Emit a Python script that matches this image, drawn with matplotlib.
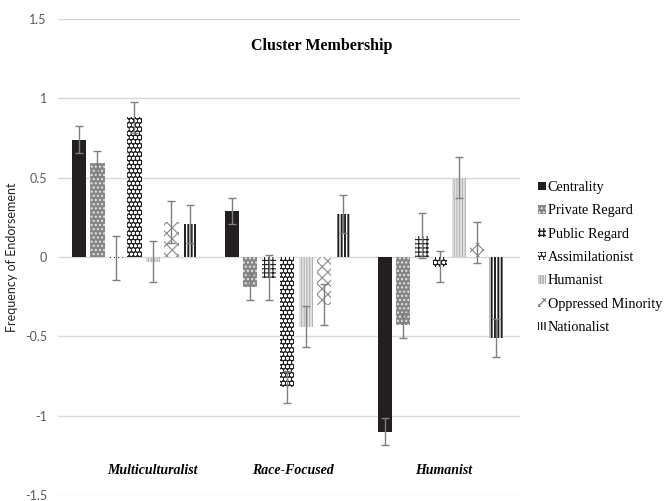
import matplotlib
matplotlib.use('Agg')
import matplotlib.pyplot as plt
import numpy as np

clusters = ['Multiculturalist', 'Race-Focused', 'Humanist']
series = ['Centrality', 'Private Regard', 'Public Regard', 'Assimilationist',
          'Humanist', 'Oppressed Minority', 'Nationalist']

# values per series, one per cluster
values = {
    'Centrality':         [0.74, 0.29, -1.10],
    'Private Regard':     [0.59, -0.19, -0.43],
    'Public Regard':      [-0.005, -0.13, 0.135],
    'Assimilationist':    [0.88, -0.82, -0.06],
    'Humanist':           [-0.03, -0.44, 0.50],
    'Oppressed Minority': [0.22, -0.30, 0.09],
    'Nationalist':        [0.21, 0.27, -0.51],
}
errors = {
    'Centrality':         [0.085, 0.085, 0.085],
    'Private Regard':     [0.08, 0.08, 0.08],
    'Public Regard':      [0.14, 0.14, 0.14],
    'Assimilationist':    [0.10, 0.10, 0.10],
    'Humanist':           [0.13, 0.13, 0.13],
    'Oppressed Minority': [0.13, 0.13, 0.13],
    'Nationalist':        [0.12, 0.12, 0.12],
}

# (face, hatch, hatch colour, hatch width)
styles = {
    'Centrality':         ('#231f20', '', '#231f20', 1.0),
    'Private Regard':     ('#858585', '....', '#e6e6e6', 1.0),
    'Public Regard':      ('white', '++++', '#231f20', 0.8),
    'Assimilationist':    ('#231f20', 'oooo', 'white', 0.9),
    'Humanist':           ('#e2e2e2', '||||||', '#a8a8a8', 0.6),
    'Oppressed Minority': ('white', 'xxx', '#8a8a8a', 0.8),
    'Nationalist':        ('white', '|||||', '#231f20', 1.4),
}

fig = plt.figure(figsize=(6.69, 5.01), dpi=100)
ax = fig.add_axes([0.0867, 0.012, 0.69, 0.95])

x = np.arange(len(clusters))
step = 0.121
width = 0.093
for i, s in enumerate(series):
    face, hatch, hcol, hlw = styles[s]
    pos = x + (i - 3) * step
    bars = ax.bar(pos, values[s], width, color=face, edgecolor=hcol, hatch=hatch,
                  linewidth=0, label=s, zorder=2)
    for b in bars:
        try:
            b.set_hatch_linewidth(hlw)
        except AttributeError:
            pass
    ax.errorbar(pos, values[s], yerr=errors[s], fmt='none', ecolor='#7f7f7f',
                elinewidth=1, capsize=3, capthick=1, zorder=3)

ax.set_xlim(-0.5, 2.52)
ax.set_ylim(-1.5, 1.5)
ax.set_yticks([-1.5, -1, -0.5, 0, 0.5, 1, 1.5])
ax.set_yticklabels(['-1.5', '-1', '-0.5', '0', '0.5', '1', '1.5'])
ax.set_xticks([])
ax.grid(axis='y', color='#d9d9d9', linewidth=1, zorder=0)
ax.set_axisbelow(True)
for sp in ax.spines.values():
    sp.set_visible(False)
ax.tick_params(axis='y', length=0, pad=8, labelcolor='#595959', labelsize=9)
for lbl in ax.get_yticklabels():
    lbl.set_family('Lato')
ax.set_ylabel('Frequency of Endorsement', fontsize=9, family='Lato',
              color='#222222', labelpad=5)

# category labels sit a bit right of the bar groups
label_shift = [0.115, 0.035, 0.02]
for xi, name, dx in zip(x, clusters, label_shift):
    ax.text(xi + dx, -1.345, name, ha='center', va='center', fontsize=10,
            family='Liberation Serif', fontweight='bold', style='italic')

ax.text(0.571, 1.33, 'Cluster Membership', transform=ax.get_yaxis_transform(),
        ha='center', va='center', fontsize=11.5, family='Liberation Serif',
        fontweight='bold')

leg = fig.legend(loc='center left', bbox_to_anchor=(0.796, 0.486),
                 frameon=False, prop={'family': 'Liberation Serif', 'size': 10.3},
                 handlelength=0.55, handleheight=0.55, handletextpad=0.1,
                 labelspacing=0.72, borderaxespad=0)

fig.savefig('out.png', dpi=100)
